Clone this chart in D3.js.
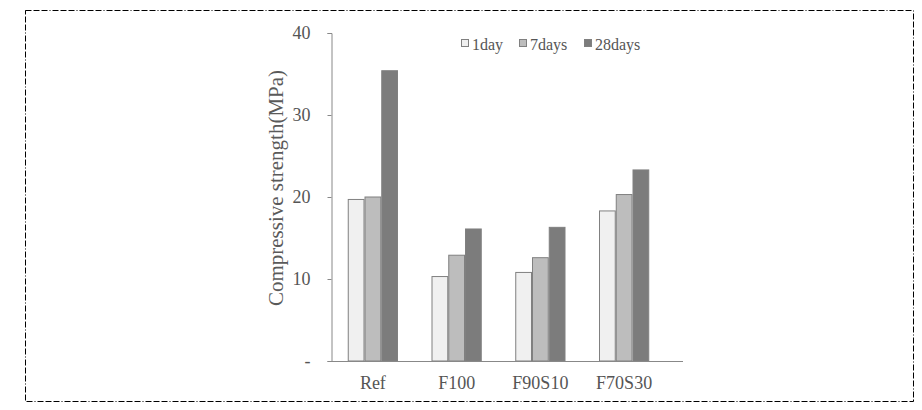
<!DOCTYPE html>
<html><head><meta charset="utf-8">
<script src="https://cdn.jsdelivr.net/npm/d3@7/dist/d3.min.js"></script>
<style>body{margin:0;background:#fff}svg{display:block}</style>
</head><body>
<svg id="c" width="922" height="410"></svg>
<script>
const categories = ["Ref", "F100", "F90S10", "F70S30"];
const seriesNames = ["1day", "7days", "28days"];
const day1 = [19.7, 10.3, 10.8, 18.3];
const day7 = [20.0, 12.9, 12.6, 20.3];
const day28 = [35.4, 16.1, 16.3, 23.3];
const yTicks = [0, 10, 20, 30, 40];
const yTickLabels = ["-", "10", "20", "30", "40"];
const colors = ["#f0f0f0", "#bdbdbd", "#7c7c7c"];

const series = [day1, day7, day28];
const svg = d3.select("#c");
const font = "'Liberation Serif','Times New Roman',serif";

// frame
svg.append("rect").attr("x", 25.5).attr("y", 10.5).attr("width", 888).attr("height", 391)
  .attr("fill", "none").attr("stroke", "#000").attr("stroke-width", 1)
  .attr("stroke-dasharray", "6,2,6,2,6,2,1,2");

const y = d3.scaleLinear().domain([0, 40]).range([361, 33]);
const x0 = d3.scaleBand().domain(categories).range([331, 666]).paddingInner(0).paddingOuter(0);
const groupW = x0.bandwidth() * 0.6;
const x1 = d3.scaleBand().domain(seriesNames).range([0, groupW]).padding(0);

// bars
categories.forEach((c, i) => {
  const gx = x0(c) + (x0.bandwidth() - groupW) / 2;
  seriesNames.forEach((s, j) => {
    const v = series[j][i];
    svg.append("rect")
      .attr("x", gx + x1(s) + 0.5).attr("y", y(v))
      .attr("width", x1.bandwidth() - 1).attr("height", y(0) - y(v))
      .attr("fill", colors[j]).attr("stroke", "#808080").attr("stroke-width", 1);
  });
});

// y axis
const yAxis = d3.axisLeft(y).tickValues(yTicks).tickSize(4).tickPadding(17)
  .tickFormat((d, i) => yTickLabels[i]);
const gy = svg.append("g").attr("transform", "translate(331.5,0)").call(yAxis);
gy.select(".domain").attr("stroke", "#888");
gy.selectAll(".tick line").attr("stroke", "#888");
gy.selectAll(".tick text").attr("fill", "#555").style("font-family", font).style("font-size", "18px");

// x axis
svg.append("line").attr("x1", 331).attr("x2", 683).attr("y1", 361.5).attr("y2", 361.5)
  .attr("stroke", "#888");
const xAxis = d3.axisBottom(x0).tickSize(0).tickPadding(15);
const gx = svg.append("g").attr("transform", "translate(0,361)").call(xAxis);
gx.select(".domain").remove();
gx.selectAll(".tick text").attr("fill", "#555").style("font-family", font).style("font-size", "18px");

// y title
svg.append("text").attr("transform", "translate(283,188) rotate(-90)")
  .attr("text-anchor", "middle").attr("fill", "#5a5a5a")
  .style("font-family", font).style("font-size", "21px")
  .text("Compressive strength(MPa)");

// legend
const legX = [461, 519, 584];
seriesNames.forEach((s, j) => {
  svg.append("rect").attr("x", legX[j] + 0.5).attr("y", 39.5).attr("width", 7).attr("height", 7)
    .attr("fill", colors[j]).attr("stroke", "#808080");
  svg.append("text").attr("x", legX[j] + 11).attr("y", 50).attr("fill", "#555")
    .style("font-family", font).style("font-size", "16px").text(s);
});
</script>
</body></html>
